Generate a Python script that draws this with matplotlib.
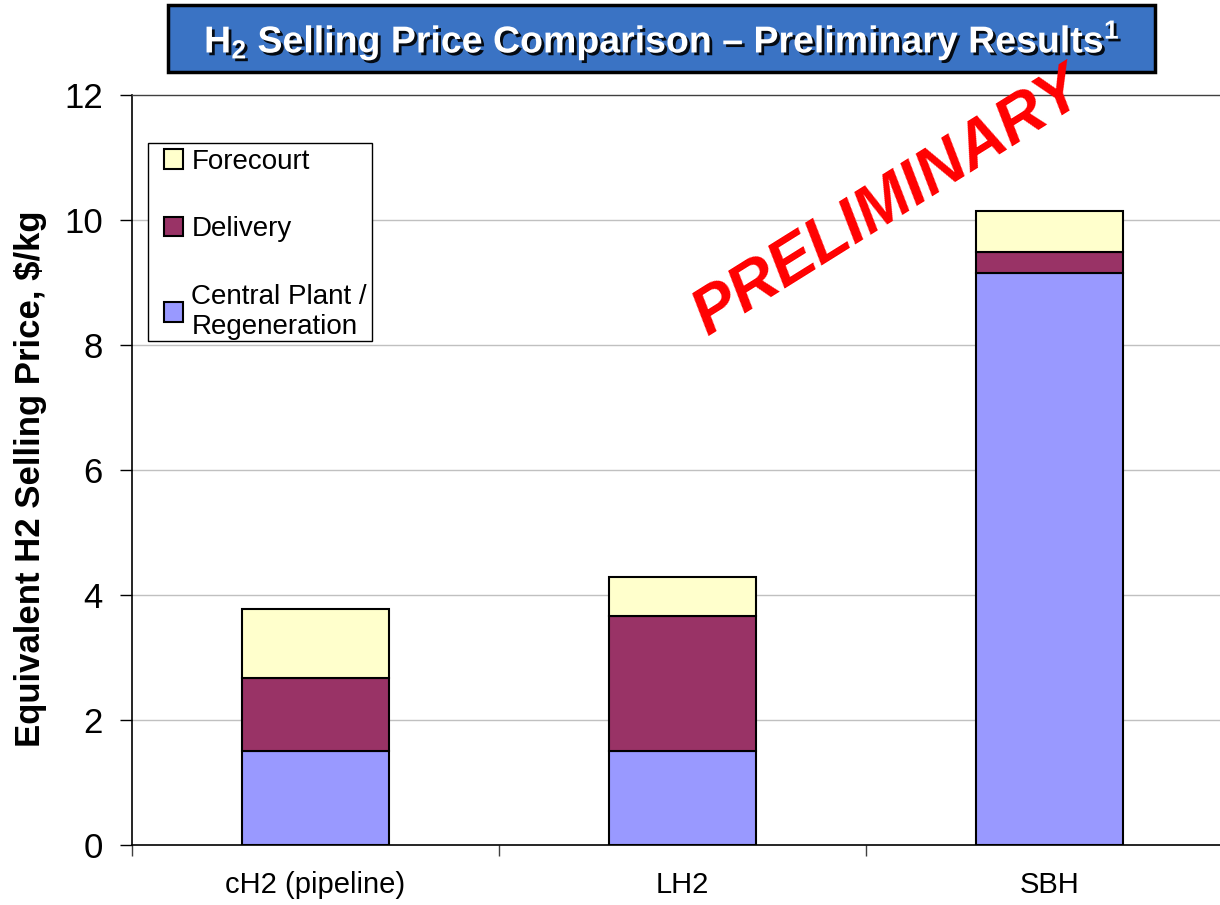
import matplotlib
matplotlib.use("Agg")
import matplotlib.pyplot as plt
import matplotlib.patheffects as pe
from matplotlib.patches import Rectangle
import numpy as np

categories = ["cH2 (pipeline)", "LH2", "SBH"]
central = [1.50, 1.50, 9.15]
delivery = [1.17, 2.16, 0.34]
forecourt = [1.11, 0.63, 0.65]
yticks = [0, 2, 4, 6, 8, 10, 12]

plt.rcParams['font.family'] = ['Liberation Sans', 'DejaVu Sans']
plt.rcParams['mathtext.fontset'] = 'custom'
plt.rcParams['mathtext.rm'] = 'Liberation Sans:bold'
plt.rcParams['mathtext.bf'] = 'Liberation Sans:bold'
plt.rcParams['mathtext.it'] = 'Liberation Sans:bold'

W, H = 1220, 905
fig = plt.figure(figsize=(W / 100, H / 100), dpi=100)
ax = fig.add_axes([132 / W, (H - 845) / H, 1101 / W, 750 / H])

x = np.arange(len(categories))
bw = 0.4
c_central = "#9999FF"
c_delivery = "#993366"
c_fore = "#FFFFCC"

b1 = ax.bar(x, central, bw, color=c_central, edgecolor="black", linewidth=1.5, label="Central Plant /\nRegeneration", zorder=3)
bottom2 = np.array(central)
b2 = ax.bar(x, delivery, bw, bottom=bottom2, color=c_delivery, edgecolor="black", linewidth=1.5, label="Delivery", zorder=3)
bottom3 = bottom2 + np.array(delivery)
b3 = ax.bar(x, forecourt, bw, bottom=bottom3, color=c_fore, edgecolor="black", linewidth=1.5, label="Forecourt", zorder=3)

ax.set_xlim(-0.5, 2.5)
ax.set_ylim(0, 12)
ax.set_yticks(yticks)
ax.set_yticklabels([str(v) for v in yticks], fontsize=25)
ax.tick_params(axis="y", direction="out", length=9, width=1, pad=12, color="black")
ax.set_xticks(x)
ax.set_xticklabels(categories, fontsize=21)
ax.tick_params(axis="x", which="major", length=0, pad=19)
ax.set_xticks([-0.5, 0.5, 1.5], minor=True)
ax.tick_params(axis="x", which="minor", direction="out", length=8, width=1, color="#404040")

for v in yticks[1:-1]:
    ax.axhline(v, color="#c0c0c0", linewidth=1, zorder=1)
ax.spines["right"].set_visible(False)
ax.spines["top"].set_color("#404040")
ax.spines["top"].set_linewidth(1)
ax.spines["left"].set_linewidth(1.2)
ax.spines["bottom"].set_linewidth(1.2)

# Legend frame drawn separately (inside the axes so the legend sits on top)
legbox = Rectangle((148 / W, 1 - 341 / H), (372 - 148) / W, (341 - 143) / H, transform=fig.transFigure,
                   facecolor="white", edgecolor="black", linewidth=1, zorder=4, clip_on=False)
ax.add_patch(legbox)

handles = [b3, b2, b1]
labels = ["Forecourt", "Delivery", "Central Plant /\nRegeneration"]
leg = ax.legend(handles, labels, loc="upper left", bbox_to_anchor=(158 / W, 1 - 143 / H),
                bbox_transform=fig.transFigure, fontsize=20, frameon=False,
                borderaxespad=0, handlelength=0.7, handleheight=0.7, handletextpad=0.3,
                labelspacing=1.5, borderpad=0.2)
leg.set_zorder(5)

fig.text(31 / W, 1 - 479 / H, "Equivalent H2 Selling Price, $/kg", rotation=90,
         ha="center", va="center", fontsize=25, fontweight="bold")

# Title box
rect = Rectangle((168 / W, 1 - 72 / H), (1155 - 168) / W, 67 / H, transform=fig.transFigure,
                 facecolor="#3A73C4", edgecolor="black", linewidth=2.5, zorder=1)
fig.patches.append(rect)
fig.text(662 / W, 1 - 40 / H, r"H$_{\mathbf{2}}$ Selling Price Comparison – Preliminary Results$^{\mathbf{1}}$",
         ha="center", va="center", fontsize=27, fontweight="bold", color="white",
         path_effects=[pe.withSimplePatchShadow(offset=(2, -2), shadow_rgbFace="black", alpha=0.9)])

fig.text(889 / W, 1 - 203 / H, "PRELIMINARY", rotation=32, ha="center", va="center",
         rotation_mode="anchor", fontsize=47, fontweight="bold", fontstyle="italic", color="#FF0000", zorder=10)

fig.savefig("out.png", dpi=100)
